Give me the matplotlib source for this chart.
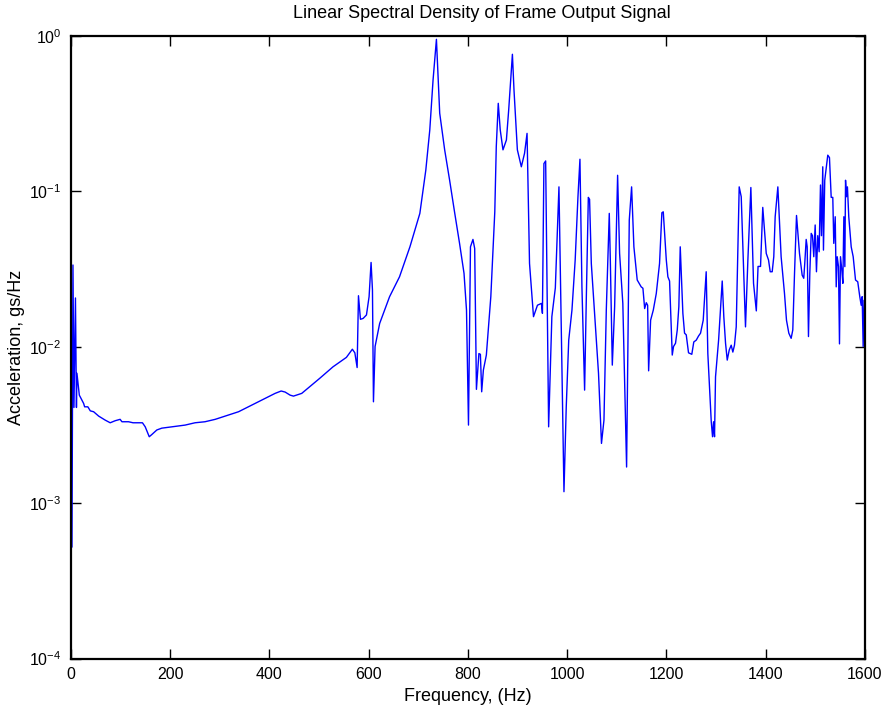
import matplotlib
matplotlib.use("Agg")
import matplotlib.pyplot as plt
import numpy as np
from matplotlib.ticker import FixedLocator, NullLocator, FuncFormatter

# Low-frequency start-up transient (Hz, gs/Hz)
freq_low = [0, 2, 4, 6, 9, 11, 12, 16.8, 25.5, 27.5, 34, 38.9, 45.6, 55.7, 69, 79]
amp_low = [0.0129, 0.00052, 0.0337, 0.0041, 0.0207, 0.0041, 0.0068, 0.00492,
           0.00435, 0.00414, 0.00414, 0.0039, 0.00385, 0.00361, 0.0034, 0.00327]

# Slowly rising floor up to the first resonance
freq_floor = [89, 99, 102.7, 116, 125, 136, 144, 149.6, 157.7, 163, 173, 183,
              203, 230, 250, 270, 290.6, 310.7, 337.7, 364.5, 391, 411.3, 423.5,
              431.5, 441.6, 448.3, 465, 485, 501, 528, 555, 567, 572, 576.6]
amp_floor = [0.00337, 0.00344, 0.00332, 0.00332, 0.00327, 0.00327, 0.00327,
             0.00308, 0.00266, 0.00275, 0.00294, 0.00302, 0.00308, 0.00316,
             0.00327, 0.00332, 0.00344, 0.00361, 0.00385, 0.00425, 0.00469,
             0.00505, 0.00523, 0.00515, 0.00492, 0.00485, 0.00505, 0.00571,
             0.0063, 0.00748, 0.0086, 0.0097, 0.0092, 0.0074]

# Main resonance region
freq_mid = [579.3, 583.3, 588.7, 595.4, 600.7, 604.7, 607.5, 609.5, 612.8, 622,
            642, 662, 683, 703, 715, 723, 729.6, 736.4, 743, 753, 763, 773,
            783, 792, 797, 801]
amp_mid = [0.0214, 0.0151, 0.0153, 0.0161, 0.0211, 0.035, 0.0233, 0.00446,
           0.0101, 0.0142, 0.0211, 0.0283, 0.0441, 0.0723, 0.137, 0.248, 0.519,
           0.948, 0.318, 0.185, 0.118, 0.0735, 0.0464, 0.0298, 0.0173, 0.00316]

freq_upper = [805, 810, 813.5, 817, 822, 825, 827.6, 831, 837, 846, 854, 857,
              861, 865, 870.5, 877.4, 882, 886, 889.5, 892.7, 899.5, 907.5, 914,
              919, 924, 932, 940, 948, 950, 953, 956.5, 962.5, 969, 976, 983.3,
              988, 993.4]
amp_upper = [0.0441, 0.0492, 0.043, 0.00536, 0.0091, 0.009, 0.00517, 0.00713,
             0.0089, 0.0211, 0.074, 0.194, 0.368, 0.248, 0.185, 0.214, 0.333,
             0.519, 0.76, 0.448, 0.185, 0.144, 0.176, 0.236, 0.0345, 0.0157,
             0.0186, 0.0191, 0.0165, 0.151, 0.157, 0.00308, 0.0157, 0.024,
             0.107, 0.0129, 0.00118]

freq_high = [998, 1003, 1009.5, 1016, 1021.6, 1025.6, 1029.6, 1035, 1038.5,
             1042.5, 1045, 1048.5, 1055, 1063, 1069, 1074, 1078.7, 1084.7,
             1086.8, 1090.8, 1095.5, 1101.5, 1105.5, 1112, 1119.6, 1125, 1129.7,
             1134.3, 1141, 1149, 1152.5, 1156, 1159.3, 1162, 1164, 1168, 1173.4,
             1179.4, 1186, 1190.7, 1193.5, 1199.6, 1202.8, 1206.2, 1211.6,
             1214.2, 1218.2, 1221.7, 1224.9, 1227.7, 1233, 1236.4, 1239.8,
             1244.4, 1251, 1255, 1260, 1264.6, 1268.6, 1274, 1280, 1283.3,
             1290.2, 1292.8, 1294.8, 1296.8, 1298.8, 1305, 1312.3, 1315.5, 1319,
             1322.4, 1326.4, 1330.4, 1333.7, 1337, 1340.5, 1346.5, 1350.6,
             1359.2, 1364, 1370, 1375.4, 1381, 1384.5, 1389.5, 1394]
amp_high = [0.00414, 0.0111, 0.0173, 0.0363, 0.0925, 0.161, 0.0244, 0.0053,
            0.0211, 0.0916, 0.089, 0.0345, 0.0165, 0.0068, 0.00241, 0.0034,
            0.0173, 0.0723, 0.0363, 0.00767, 0.0182, 0.127, 0.040, 0.0191,
            0.0017, 0.0655, 0.107, 0.0441, 0.027, 0.0244, 0.0239, 0.0177,
            0.0193, 0.0186, 0.00705, 0.0149, 0.0173, 0.0221, 0.0345, 0.073,
            0.074, 0.0363, 0.0283, 0.0266, 0.0089, 0.0101, 0.0106, 0.0129,
            0.0182, 0.0441, 0.0165, 0.0123, 0.012, 0.0092, 0.009, 0.0108,
            0.0111, 0.0118, 0.0123, 0.0149, 0.0305, 0.0091, 0.00332, 0.00266,
            0.00332, 0.00266, 0.00645, 0.0111, 0.0266, 0.0157, 0.0106, 0.00826,
            0.00958, 0.0103, 0.0093, 0.0103, 0.0135, 0.107, 0.0925, 0.0135,
            0.0363, 0.106, 0.0257, 0.0171, 0.033, 0.033, 0.079]

freq_top = [1401, 1405.6, 1409, 1413, 1416.2, 1419, 1424.4, 1431, 1437.8,
            1441.8, 1446.5, 1451.2, 1454.5, 1458, 1462, 1468, 1473.4, 1476.6,
            1478.6, 1481.5, 1483.5, 1486.1, 1488.8, 1491.6, 1494.2, 1496.8,
            1499.6, 1502.2, 1504.8, 1507.6, 1510.3, 1512.3, 1514.9, 1516.3,
            1518.9, 1521.8, 1525, 1528.4, 1531.9, 1535.1, 1537.1, 1540, 1542,
            1544, 1546.6, 1548.6, 1550.6, 1553.3, 1555.4, 1557.4, 1559.4,
            1560.8, 1562.6, 1564.6, 1567.3, 1572.2, 1576.2, 1580.9, 1585.4,
            1589.5, 1592.3, 1594.3, 1596.3, 1598, 1600]
amp_top = [0.040, 0.0363, 0.0305, 0.0305, 0.0381, 0.0688, 0.107, 0.0381,
           0.0221, 0.0149, 0.0123, 0.0114, 0.0129, 0.0298, 0.0701, 0.040, 0.029,
           0.0277, 0.0345, 0.0492, 0.0441, 0.0117, 0.0298, 0.0538, 0.052,
           0.0381, 0.0609, 0.0305, 0.052, 0.041, 0.11, 0.052, 0.144, 0.042,
           0.118, 0.141, 0.171, 0.165, 0.0916, 0.0916, 0.0464, 0.0688, 0.0244,
           0.0381, 0.0329, 0.0105, 0.0381, 0.0313, 0.0257, 0.0688, 0.0329,
           0.118, 0.0925, 0.107, 0.0688, 0.0441, 0.0381, 0.027, 0.0263, 0.0211,
           0.0186, 0.0211, 0.0101, 0.02, 0.0087]

decades = [1e-4, 1e-3, 1e-2, 1e-1, 1e0]
freq_ticks = [0, 200, 400, 600, 800, 1000, 1200, 1400, 1600]

freq = np.concatenate([freq_low, freq_floor, freq_mid, freq_upper, freq_high, freq_top])
amp = np.concatenate([amp_low, amp_floor, amp_mid, amp_upper, amp_high, amp_top])

plt.rcParams["font.family"] = ["Liberation Sans", "DejaVu Sans"]
plt.rcParams["mathtext.fontset"] = "custom"
plt.rcParams["mathtext.rm"] = "Liberation Sans"

fig = plt.figure(figsize=(8.84, 7.06), dpi=100)
ax = fig.add_axes([0.0803, 0.0671, 0.8982, 0.8823])

ax.semilogy(freq, amp, color="#0000ff", linewidth=1.0)

ax.set_xlim(0, 1600)
ax.set_ylim(1e-4, 1e0)
ax.xaxis.set_major_locator(FixedLocator(freq_ticks))
ax.yaxis.set_major_locator(FixedLocator(decades))
ax.yaxis.set_minor_locator(NullLocator())
ax.yaxis.set_major_formatter(
    FuncFormatter(lambda v, pos: r"$10^{%d}$" % int(round(np.log10(v)))))

ax.tick_params(which="both", direction="in", length=7, width=1.0,
               top=True, right=True, labelsize=11.5, colors="black")
ax.tick_params(axis="x", pad=6)
ax.tick_params(axis="y", pad=7)
for side in ax.spines.values():
    side.set_linewidth(1.6)

ax.set_title("Linear Spectral Density of Frame Output Signal", fontsize=13,
             pad=13, x=0.517)
ax.set_xlabel("Frequency, (Hz)", fontsize=13, labelpad=4)
ax.set_ylabel("Acceleration, gs/Hz", fontsize=13, labelpad=3)

fig.savefig("out.png", dpi=100)
